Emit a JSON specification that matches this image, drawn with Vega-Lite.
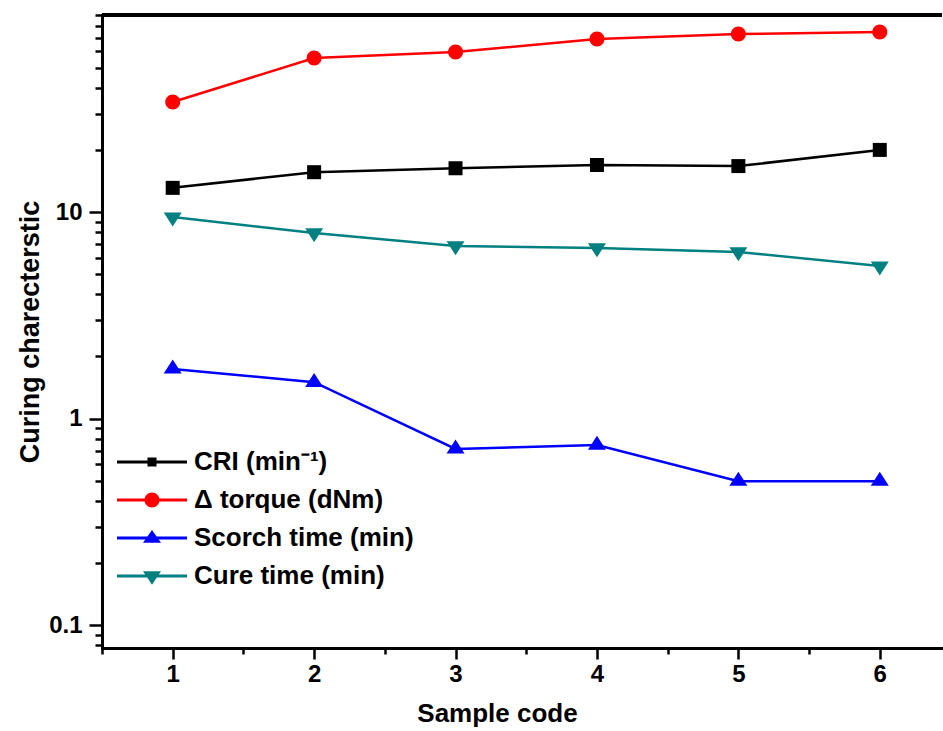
{
  "$schema": "https://vega.github.io/schema/vega-lite/v6.json",
  "width": 840,
  "height": 633,
  "autosize": {"type": "none"},
  "padding": {"left": 102, "top": 15, "right": 1, "bottom": 83},
  "background": "white",
  "config": {
    "view": {"stroke": null},
    "font": "Liberation Sans",
    "legend": {
      "orient": "none", "legendX": 37, "legendY": 434,
      "padding": 0,
      "symbolSize": 256, "symbolOffset": 0, "symbolOpacity": 1, "symbolStrokeWidth": 0,
      "labelFont": "Liberation Sans", "labelFontSize": 26, "labelFontWeight": "bold", "labelColor": "black",
      "labelOffset": 29, "rowPadding": 12, "labelLimit": 0
    }
  },
  "data": {
    "values": [
      {"sample": 1, "series": "CRI (min\u207b\u00b9)", "value": 13.1},
      {"sample": 2, "series": "CRI (min\u207b\u00b9)", "value": 15.6},
      {"sample": 3, "series": "CRI (min\u207b\u00b9)", "value": 16.3},
      {"sample": 4, "series": "CRI (min\u207b\u00b9)", "value": 16.9},
      {"sample": 5, "series": "CRI (min\u207b\u00b9)", "value": 16.7},
      {"sample": 6, "series": "CRI (min\u207b\u00b9)", "value": 20.0},
      {"sample": 1, "series": "\u0394 torque (dNm)", "value": 34.1},
      {"sample": 2, "series": "\u0394 torque (dNm)", "value": 55.7},
      {"sample": 3, "series": "\u0394 torque (dNm)", "value": 59.6},
      {"sample": 4, "series": "\u0394 torque (dNm)", "value": 68.9},
      {"sample": 5, "series": "\u0394 torque (dNm)", "value": 72.8},
      {"sample": 6, "series": "\u0394 torque (dNm)", "value": 74.4},
      {"sample": 1, "series": "Scorch time (min)", "value": 1.74},
      {"sample": 2, "series": "Scorch time (min)", "value": 1.50},
      {"sample": 3, "series": "Scorch time (min)", "value": 0.713},
      {"sample": 4, "series": "Scorch time (min)", "value": 0.745},
      {"sample": 5, "series": "Scorch time (min)", "value": 0.498},
      {"sample": 6, "series": "Scorch time (min)", "value": 0.498},
      {"sample": 1, "series": "Cure time (min)", "value": 9.46},
      {"sample": 2, "series": "Cure time (min)", "value": 7.92},
      {"sample": 3, "series": "Cure time (min)", "value": 6.85},
      {"sample": 4, "series": "Cure time (min)", "value": 6.70},
      {"sample": 5, "series": "Cure time (min)", "value": 6.41},
      {"sample": 6, "series": "Cure time (min)", "value": 5.48}
    ]
  },
  "encoding": {
    "x": {
      "field": "sample", "type": "quantitative",
      "scale": {"domain": [0.5, 6.44], "nice": false, "zero": false},
      "axis": {
        "title": "Sample code",
        "values": [0.5, 1, 1.5, 2, 2.5, 3, 3.5, 4, 4.5, 5, 5.5, 6],
        "labelExpr": "datum.value % 1 == 0 ? format(datum.value, 'd') : ''",
        "tickSize": {"condition": {"test": "datum.value % 1 == 0", "value": 11}, "value": 6},
        "tickWidth": 2.5, "tickColor": "black",
        "domainWidth": 3, "domainColor": "black", "domainCap": "square",
        "labelFont": "Liberation Sans", "labelFontSize": 24, "labelFontWeight": "bold", "labelColor": "black",
        "labelPadding": 3,
        "titleFont": "Liberation Sans", "titleFontSize": 26, "titleFontWeight": "bold", "titleColor": "black",
        "titlePadding": 14, "titleX": 395, "titleAlign": "center",
        "grid": false
      }
    },
    "y": {
      "field": "value", "type": "quantitative",
      "scale": {"type": "log", "domain": [0.0775, 90], "nice": false},
      "axis": {
        "title": "Curing charecterstic",
        "values": [0.08, 0.09, 0.1, 0.2, 0.3, 0.4, 0.5, 0.6, 0.7, 0.8, 0.9, 1, 2, 3, 4, 5, 6, 7, 8, 9, 10, 20, 30, 40, 50, 60, 70, 80, 90],
        "labelExpr": "datum.value == 0.1 ? '0.1' : datum.value == 1 ? '1' : datum.value == 10 ? '10' : ''",
        "tickSize": {"condition": {"test": "datum.value == 0.1 || datum.value == 1 || datum.value == 10", "value": 13}, "value": 7},
        "tickWidth": 2.5, "tickColor": "black",
        "domainWidth": 3, "domainColor": "black", "domainCap": "square",
        "labelFont": "Liberation Sans", "labelFontSize": 24, "labelFontWeight": "bold", "labelColor": "black",
        "labelPadding": 7,
        "titleFont": "Liberation Sans", "titleFontSize": 27, "titleFontWeight": "bold", "titleColor": "black",
        "titlePadding": 4,
        "grid": false
      }
    }
  },
  "layer": [
    {
      "mark": {"type": "line", "strokeWidth": 2.5},
      "encoding": {
        "stroke": {
          "field": "series", "type": "nominal",
          "scale": {
            "domain": ["Cure time (min)", "Scorch time (min)", "\u0394 torque (dNm)", "CRI (min\u207b\u00b9)"],
            "range": ["#008080", "#0000ff", "#ff0000", "#000000"]
          },
          "legend": null
        }
      }
    },
    {
      "transform": [{"filter": {"field": "series", "equal": "CRI (min\u207b\u00b9)"}}],
      "mark": {"type": "point", "filled": true, "opacity": 1, "size": 100, "color": "#000000", "shape": "M-1.4,-1.4H1.4V1.4H-1.4Z"}
    },
    {
      "transform": [{"filter": {"field": "series", "equal": "\u0394 torque (dNm)"}}],
      "mark": {"type": "point", "filled": true, "opacity": 1, "size": 100, "color": "#ff0000", "shape": "M-1.5,0A1.5,1.5 0 1,1 1.5,0A1.5,1.5 0 1,1 -1.5,0Z"}
    },
    {
      "transform": [{"filter": {"field": "series", "equal": "Scorch time (min)"}}],
      "mark": {"type": "point", "filled": true, "opacity": 1, "size": 100, "color": "#0000ff", "shape": "M0,-1.87L1.8,0.93L-1.8,0.93Z"}
    },
    {
      "transform": [{"filter": {"field": "series", "equal": "Cure time (min)"}}],
      "mark": {"type": "point", "filled": true, "opacity": 1, "size": 100, "color": "#008080", "shape": "M-1.8,-0.93L1.8,-0.93L0,1.87Z"}
    },
    {
      "mark": {"type": "point", "filled": true, "opacity": 0},
      "encoding": {
        "color": {
          "field": "series", "type": "nominal",
          "scale": {
            "domain": ["CRI (min\u207b\u00b9)", "\u0394 torque (dNm)", "Scorch time (min)", "Cure time (min)"],
            "range": ["#000000", "#ff0000", "#0000ff", "#008080"]
          },
          "legend": {"title": null}
        },
        "shape": {
          "field": "series", "type": "nominal",
          "scale": {
            "domain": ["CRI (min\u207b\u00b9)", "\u0394 torque (dNm)", "Scorch time (min)", "Cure time (min)"],
            "range": [
              "M-4.375,-0.175H4.375V0.175H-4.375Z M-0.5625,-0.5625H0.5625V0.5625H-0.5625Z",
              "M-4.375,-0.175H4.375V0.175H-4.375Z M-0.9375,0A0.9375,0.9375 0 1,1 0.9375,0A0.9375,0.9375 0 1,1 -0.9375,0Z",
              "M-4.375,-0.175H4.375V0.175H-4.375Z M0,-1L1.125,0.6L-1.125,0.6Z",
              "M-4.375,-0.175H4.375V0.175H-4.375Z M-1.125,-0.6L1.125,-0.6L0,1.1Z"
            ]
          },
          "legend": {"title": null}
        }
      }
    },
    {
      "mark": {"type": "rule", "strokeWidth": 3, "color": "black"},
      "encoding": {
        "x": null,
        "y": {"datum": 90, "type": "quantitative"}
      }
    }
  ]
}
